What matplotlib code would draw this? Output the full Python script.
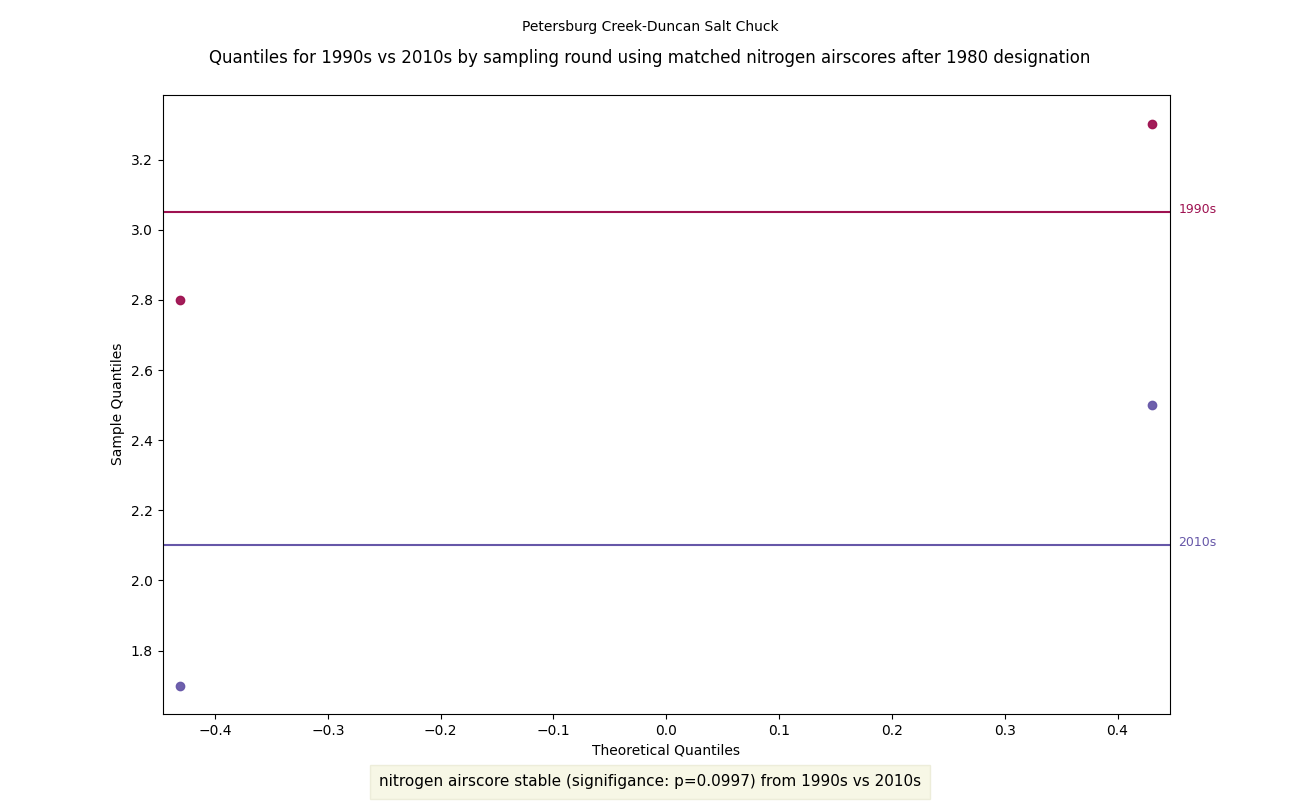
import matplotlib
matplotlib.use("Agg")
import matplotlib.pyplot as plt

# theoretical quantiles (n=2) and sample values per decade
theoretical = [-0.4307, 0.4307]
q_1990s = [2.8, 3.3]
q_2010s = [1.7, 2.5]
decades = ["1990s", "2010s"]
means = [3.05, 2.1]
colors = ["#9e1150", "#6657a8"]
p_value = 0.0997

fig, ax = plt.subplots(figsize=(13, 8.02), dpi=100)
fig.subplots_adjust(left=0.125, right=0.9, top=0.882, bottom=0.11)

for vals, mean, label, c in zip([q_1990s, q_2010s], means, decades, colors):
    ax.scatter(theoretical, vals, color=c, s=36, alpha=0.95, zorder=3)
    ax.axhline(mean, color=c, lw=1.5)
    ax.annotate(label, xy=(1.0, mean), xycoords=("axes fraction", "data"),
                xytext=(6, 2), textcoords="offset points",
                color=c, fontsize=9, va="center")

ax.set_xlim(-0.4465, 0.4465)
ax.set_ylim(1.62, 3.385)
ax.set_xlabel("Theoretical Quantiles")
ax.set_ylabel("Sample Quantiles")

fig.suptitle("Petersburg Creek-Duncan Salt Chuck", fontsize=10, y=0.975)
fig.text(0.5, 1 - 58 / 802,
         "Quantiles for 1990s vs 2010s by sampling round using matched nitrogen "
         "airscores after 1980 designation", ha="center", va="center", fontsize=12)

fig.text(0.5, 0.025,
         f"nitrogen airscore stable (signifigance: p={p_value}) from 1990s vs 2010s",
         ha="center", va="center", fontsize=11,
         bbox=dict(boxstyle="square,pad=0.6", facecolor="beige", edgecolor="#e8e8d0", alpha=0.7))

fig.savefig("out.png", dpi=100)
